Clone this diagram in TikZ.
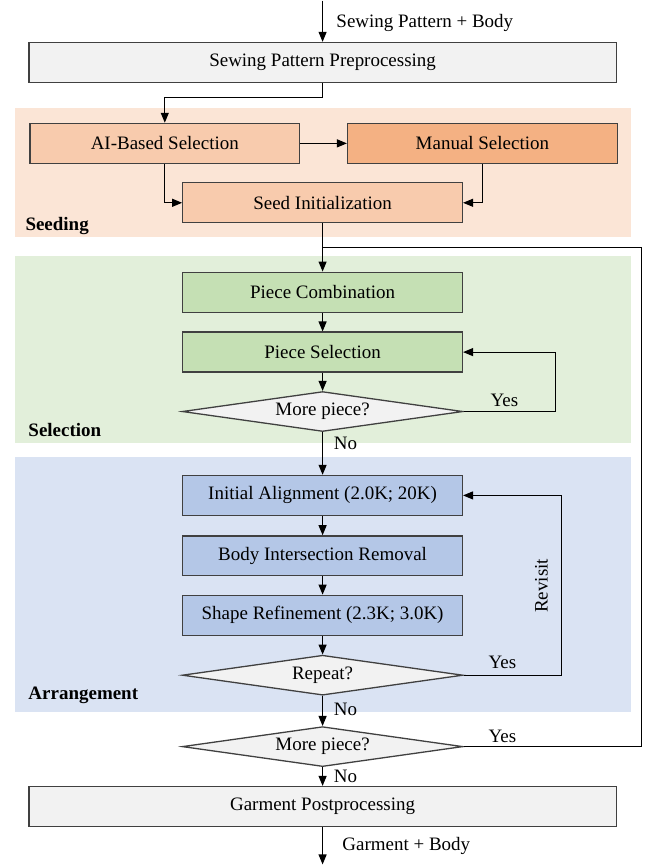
\documentclass[tikz,border=0pt]{standalone}
\usepackage{fontspec}
\setmainfont{Liberation Serif}
\usetikzlibrary{positioning, arrows.meta, shapes.geometric}

\definecolor{grayfill}{HTML}{F2F2F2}
\definecolor{seedbg}{HTML}{FBE5D6}
\definecolor{seedfill}{HTML}{F8CBAD}
\definecolor{manualfill}{HTML}{F4B183}
\definecolor{selbg}{HTML}{E2EFDA}
\definecolor{selfill}{HTML}{C5E0B4}
\definecolor{arrbg}{HTML}{DAE3F3}
\definecolor{arrfill}{HTML}{B4C7E7}

\begin{document}
\begin{tikzpicture}
    [
        x=1pt, y=-1pt, on grid, font=\fontsize{19}{22}\selectfont,
        wide_box/.style={rectangle, draw=black!75, fill=grayfill, line width=1.3pt, minimum width=588pt, minimum height=40pt, inner sep=0pt},
        half_box/.style={rectangle, draw=black!75, line width=1.3pt, minimum width=270pt, minimum height=40pt, inner sep=0pt},
        step_box/.style={rectangle, draw=black!75, line width=1.3pt, minimum width=280pt, minimum height=40pt, inner sep=0pt},
        decision/.style={diamond, aspect=7, draw=black!75, fill=grayfill, line width=1.3pt, minimum width=281pt, minimum height=40pt, inner sep=0pt},
        flow/.style={-{Triangle[length=10pt, width=8pt]}, line width=1.1pt, color=black},
        stage/.style={anchor=west, font=\fontsize{19}{22}\selectfont\bfseries},
    ]
        % stage backgrounds
        \fill[seedbg] (15,108) rectangle (632,237) ;
        \fill[selbg] (15,256) rectangle (632,443) ;
        \fill[arrbg] (15,457) rectangle (632,712) ;
        \node[stage] (seeding) at (22,226) {Seeding} ;
        \node[stage] (selection) at (25,430) {Selection} ;
        \node[stage] (arrangement) at (25,696) {Arrangement} ;

        % main column
        \node[wide_box] (pre) at (323,62) {Sewing Pattern Preprocessing} ;
        \node[half_box, fill=seedfill] (ai) at (165,143) {AI-Based Selection} ;
        \node[half_box, fill=manualfill] (manual) [right = 318pt of ai] {Manual Selection} ;
        \node[step_box, fill=seedfill] (seed) [below = 140.5pt of pre] {Seed Initialization} ;
        \node[step_box, fill=selfill] (comb) [below = 89.5pt of seed] {Piece Combination} ;
        \node[step_box, fill=selfill] (sel) [below = 60pt of comb] {Piece Selection} ;
        \node[decision] (more1) [below = 59.5pt of sel] {More piece?} ;
        \node[step_box, fill=arrfill] (init) [below = 84pt of more1] {Initial Alignment (2.0K; 20K)} ;
        \node[step_box, fill=arrfill] (body) [below = 60.5pt of init] {Body Intersection Removal} ;
        \node[step_box, fill=arrfill] (shape) [below = 59.5pt of body] {Shape Refinement (2.3K; 3.0K)} ;
        \node[decision] (repeat) [below = 60pt of shape] {Repeat?} ;
        \node[decision] (more2) [below = 71.5pt of repeat] {More piece?} ;
        \node[wide_box] (post) [below = 60pt of more2] {Garment Postprocessing} ;

        \coordinate (input) at (323,0) ;
        \coordinate (output) at (323,865) ;
        \coordinate (join) at (323,247) ;
        \coordinate (outer) at (642,247) ;

        % connectors
        \draw[flow] (input) -- (pre) node[pos=0.55, right=10pt, anchor=west] {Sewing Pattern + Body} ;
        \draw[flow] (pre.south) -- ++(0,14) -| (ai.north) ;
        \draw[flow] (ai) -- (manual) ;
        \draw[flow] (ai.south) |- (seed.west) ;
        \draw[flow] (manual.south) |- (seed.east) ;
        \draw[flow] (seed) -- (comb) ;
        \draw[flow] (comb) -- (sel) ;
        \draw[flow] (sel) -- (more1) ;
        \draw[flow] (more1.east) -- ++(92,0) |- (sel.east) ;
        \draw[flow] (more1.south) -- (init.north) ;
        \draw[flow] (init) -- (body) ;
        \draw[flow] (body) -- (shape) ;
        \draw[flow] (shape) -- (repeat) ;
        \draw[flow] (repeat.east) -- ++(98,0) |- (init.east) ;
        \draw[flow] (repeat.south) -- (more2.north) ;
        \draw[line width=1.1pt] (more2.east) -| (outer) -- (join) ;
        \draw[flow] (more2.south) -- (post.north) ;
        \draw[flow] (post) -- (output) node[pos=0.5, right=16pt, anchor=west] {Garment + Body} ;

        % branch labels
        \node (yes1) at (505,400) {Yes} ;
        \node (no1) at (346,443) {No} ;
        \node (yes2) at (503,663) {Yes} ;
        \node[rotate=90] (revisit) at (542,586) {Revisit} ;
        \node (no2) at (346,710) {No} ;
        \node (yes3) at (503,737) {Yes} ;
        \node (no3) at (346,777) {No} ;

        \useasboundingbox (0,0) rectangle (646,865) ;
    \end{tikzpicture}
\end{document}
